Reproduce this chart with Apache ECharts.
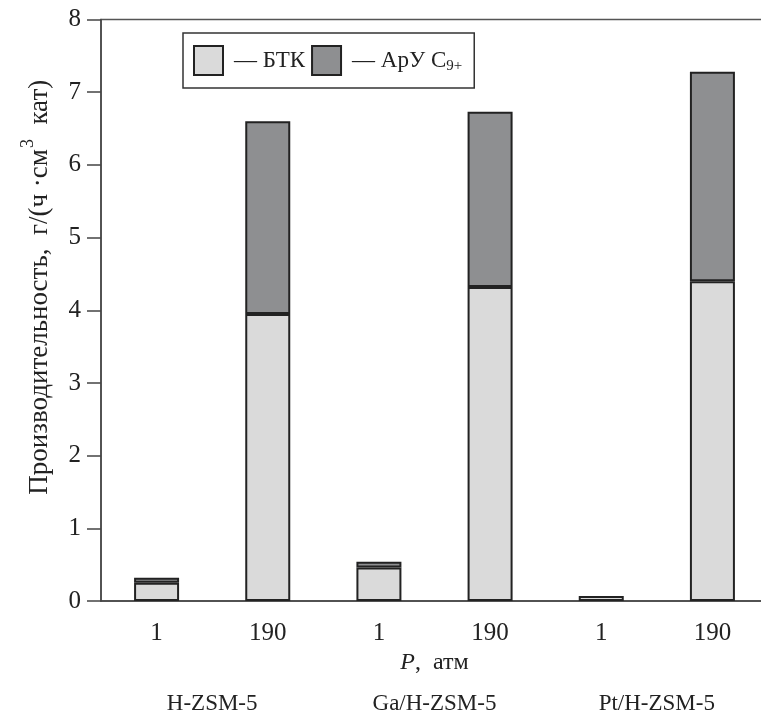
<!DOCTYPE html>
<html>
<head>
<meta charset="utf-8">
<script src="https://cdn.jsdelivr.net/npm/echarts@6/dist/echarts.min.js"></script>
<style>
  html, body { margin: 0; padding: 0; background: #fff; }
  #chart { width: 761px; height: 715px; font-family: 'Liberation Serif', serif; }
</style>
</head>
<body>
<div id="chart"></div>
<script>
// давление, атм (по две колонки на катализатор)
const pressures = ['1', '190', '1', '190', '1', '190']
const catalysts = ['H-ZSM-5', 'Ga/H-ZSM-5', 'Pt/H-ZSM-5']
// производительность, г/(ч·см3 кат)
const btk = [0.25, 3.95, 0.46, 4.32, 0.07, 4.40]
const aru = [0.07, 2.65, 0.08, 2.41, null, 2.88]
const yTicks = [0, 1, 2, 3, 4, 5, 6, 7, 8]

const serif = "'Liberation Serif', 'Times New Roman', 'DejaVu Serif', serif"
const axisColor = '#444'
const borderColor = '#222'

const chart = echarts.init(document.getElementById('chart'))

const option = {
  animation: false,
  backgroundColor: '#fff',
  textStyle: { fontFamily: serif },
  grid: {
    left: 101,
    top: 19.5,
    bottom: 114,
    right: -7,
    outerBoundsMode: 'none',
    containLabel: false,
    show: true,
    borderColor: '#555',
    borderWidth: 1.5
  },
  legend: {
    left: 183,
    top: 33,
    orient: 'horizontal',
    icon: 'rect',
    itemWidth: 29,
    itemHeight: 29,
    itemGap: 6,
    padding: [12, 12, 12, 10],
    borderColor: '#333',
    borderWidth: 1.5,
    backgroundColor: '#fff',
    selectedMode: false,
    textStyle: {
      fontFamily: serif,
      fontSize: 23,
      color: '#222',
      padding: [0, 0, 0, 6],
      rich: {
        sub: { fontFamily: serif, fontSize: 15, color: '#222', padding: [11, 0, 0, 0] }
      }
    },
    formatter: (name) => name === 'БТК' ? '— БТК' : '— АрУ C{sub|9+}',
    data: [
      { name: 'БТК', itemStyle: { color: '#dadada', borderColor: borderColor, borderWidth: 2 } },
      { name: 'АрУ', itemStyle: { color: '#8e8f91', borderColor: borderColor, borderWidth: 2 } }
    ]
  },
  xAxis: [
    {
      type: 'category',
      data: pressures,
      axisLine: { lineStyle: { color: axisColor, width: 1.5 } },
      axisTick: { show: false },
      axisLabel: { fontFamily: serif, fontSize: 25, color: '#222', margin: 20 },
      name: '{i|P},  атм',
      nameLocation: 'middle',
      nameGap: 44,
      nameTextStyle: {
        fontFamily: serif,
        fontSize: 24,
        color: '#222',
        rich: {
          i: { fontFamily: serif, fontSize: 24, fontStyle: 'italic', color: '#222' }
        }
      }
    },
    {
      type: 'category',
      data: catalysts,
      position: 'bottom',
      axisLine: { show: false },
      axisTick: { show: false },
      axisLabel: { fontFamily: serif, fontSize: 23, color: '#222', margin: 91 }
    }
  ],
  yAxis: {
    type: 'value',
    min: yTicks[0],
    max: yTicks[yTicks.length - 1],
    interval: 1,
    splitLine: { show: false },
    axisLine: { show: true, lineStyle: { color: axisColor, width: 1.5 } },
    axisTick: { show: true, inside: false, length: 14, lineStyle: { color: axisColor, width: 1.5 } },
    axisLabel: { fontFamily: serif, fontSize: 25, color: '#222', margin: 20 },
    name: '{a|Производительность,  г/(ч ·см}{sup|3}{a|  кат)}',
    nameLocation: 'middle',
    nameGap: 40,
    nameRotate: 90,
    nameTextStyle: {
      fontFamily: serif,
      padding: [0, 0, 0, 46],
      rich: {
        a: { fontFamily: serif, fontSize: 27, color: '#222' },
        sup: { fontFamily: serif, fontSize: 18, color: '#222', padding: [0, 1, 24, 1] }
      }
    }
  },
  series: [
    {
      name: 'БТК',
      type: 'bar',
      stack: 'total',
      barWidth: 45,
      data: btk,
      itemStyle: { color: '#dadada', borderColor: borderColor, borderWidth: 2 }
    },
    {
      name: 'АрУ',
      type: 'bar',
      stack: 'total',
      barWidth: 45,
      data: aru,
      itemStyle: { color: '#8e8f91', borderColor: borderColor, borderWidth: 2 }
    }
  ]
}

chart.setOption(option)
</script>
</body>
</html>
